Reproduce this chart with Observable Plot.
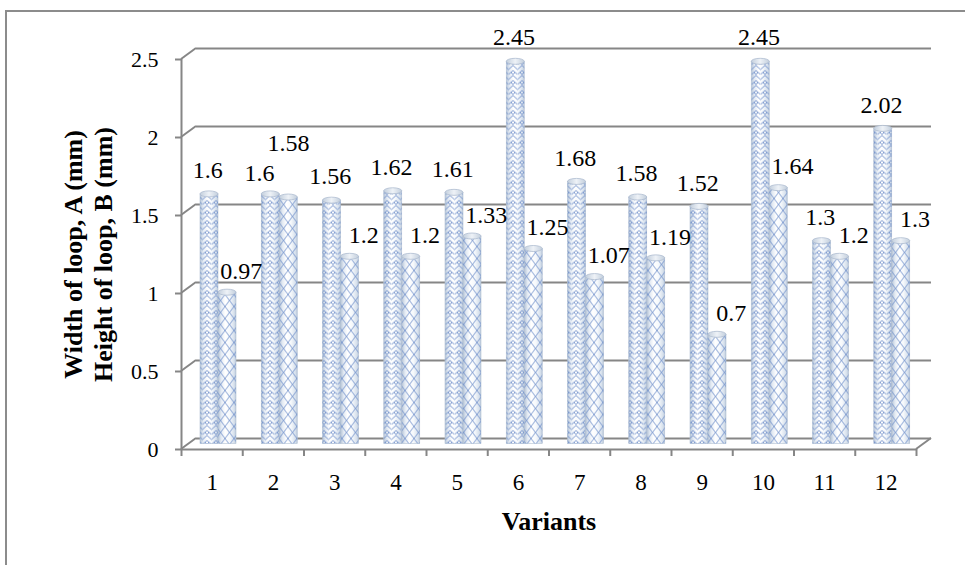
<!DOCTYPE html>
<html><head><meta charset="utf-8">
<script src="https://cdn.jsdelivr.net/npm/d3@7"></script>
<script src="https://cdn.jsdelivr.net/npm/@observablehq/plot@0.6"></script>
<style>
html,body{margin:0;padding:0;background:#fff;width:965px;height:565px;overflow:hidden;}
#frame{position:absolute;left:5px;top:10px;width:1000px;height:600px;border:2px solid #8c8c8c;box-sizing:border-box;}
#chart{position:absolute;left:0;top:0;}
</style></head><body>
<div id="frame"></div><div id="chart"></div>
<script>
// ---- data ----
const variants = [1, 2, 3, 4, 5, 6, 7, 8, 9, 10, 11, 12];
const widthA  = [1.6, 1.6, 1.56, 1.62, 1.61, 2.45, 1.68, 1.58, 1.52, 2.45, 1.3, 2.02];
const heightB = [0.97, 1.58, 1.2, 1.2, 1.33, 1.25, 1.07, 1.19, 0.7, 1.64, 1.2, 1.3];
const yTicks = [0, 0.5, 1, 1.5, 2, 2.5];
const xTitle = "Variants";
const yTitle = "Width of loop, A (mm)\nHeight of loop, B (mm)";

const dataA = variants.map((v, i) => ({variant: v, value: widthA[i]}));
const dataB = variants.map((v, i) => ({variant: v, value: heightB[i]}));

const gray = "#868686";
const depthX = 15, depthY = 11;
const serif = "'Liberation Serif', 'Times New Roman', serif";

// wall connectors (3D depth) drawn through the scales
function depthEdges(index, scales) {
  const g = d3.create("svg:g").attr("stroke", gray).attr("stroke-width", 2).attr("fill", "none");
  const x0 = scales.x(0.5);
  for (const t of yTicks) {
    const y = scales.y(t);
    g.append("line").attr("x1", x0).attr("y1", y).attr("x2", x0 + depthX).attr("y2", y - depthY);
  }
  const xr = scales.x(12.5), y0 = scales.y(0);
  g.append("line").attr("x1", xr).attr("y1", y0).attr("x2", xr + depthX).attr("y2", y0 - depthY);
  return g.node();
}

const band = d => [d.variant - 0.5, d.variant + 0.5];
const barA = {x1: d => band(d)[0], x2: d => band(d)[1], insetLeft: 19, insetRight: 24.25, dy: -5.5};
const barB = {x1: d => band(d)[0], x2: d => band(d)[1], insetLeft: 37, insetRight: 6.25, dy: -5.5};

const svg = Plot.plot({
  width: 965, height: 565,
  marginLeft: 181, marginRight: 49, marginTop: 59, marginBottom: 116,
  x: {type: "linear", domain: [0.5, 12.5], axis: null, label: null},
  y: {domain: [0, 2.5], axis: null, label: null},
  style: {fontFamily: serif, background: "transparent", color: "black", overflow: "visible"},
  marks: [
    Plot.ruleY(yTicks, {dx: depthX, dy: -depthY, stroke: gray, strokeWidth: 2}),
    depthEdges,
    Plot.ruleX([0.5], {stroke: gray, strokeWidth: 2}),
    Plot.ruleY([0], {stroke: gray, strokeWidth: 2}),
    Plot.axisY(yTicks, {anchor: "left", tickSize: 6, tickPadding: 17, fontSize: 22, fontFamily: serif, stroke: gray, strokeWidth: 2, fill: "black", tickFormat: d => String(d), label: null}),
    Plot.axisX(d3.range(0.5, 13, 1), {anchor: "bottom", tickSize: 7, stroke: gray, strokeWidth: 2, tickFormat: () => "", label: null}),
    Plot.axisX(variants, {anchor: "bottom", tickSize: 0, tickPadding: 24, fontSize: 23, fontFamily: serif, fill: "black", tickFormat: d => String(d), label: null}),
    // bars A
    Plot.rect(dataA, {...barA, y1: () => 0, y2: "value", fill: "url(#cyl)", stroke: "#b3c1d3", strokeWidth: 0.6}),
    Plot.rect(dataA, {...barA, y1: () => 0, y2: "value", fill: "url(#patA)"}),
    Plot.rect(dataA, {...barA, y1: "value", y2: "value", insetTop: -3, insetBottom: -3, rx: 9, ry: 3, fill: "url(#cap)", stroke: "#aebdd0", strokeWidth: 0.8}),
    // bars B
    Plot.rect(dataB, {...barB, y1: () => 0, y2: "value", fill: "url(#cyl)", stroke: "#b3c1d3", strokeWidth: 0.6}),
    Plot.rect(dataB, {...barB, y1: () => 0, y2: "value", fill: "url(#patB)"}),
    Plot.rect(dataB, {...barB, y1: "value", y2: "value", insetTop: -3, insetBottom: -3, rx: 9, ry: 3, fill: "url(#cap)", stroke: "#aebdd0", strokeWidth: 0.8}),
    // data labels
    Plot.text(dataA, {filter: d => d.variant !== 2, x: "variant", y: "value", text: d => String(d.value), dx: -4.5, dy: -29.5, fontSize: 24, fontFamily: serif}),
    Plot.text(dataA, {filter: d => d.variant === 2, x: "variant", y: "value", text: d => String(d.value), dx: -14, dy: -27, fontSize: 24, fontFamily: serif}),
    Plot.text(dataB, {filter: d => d.variant !== 2, x: "variant", y: "value", text: d => String(d.value), dx: 29, dy: -27, fontSize: 24, fontFamily: serif}),
    Plot.text(dataB, {filter: d => d.variant === 2, x: "variant", y: "value", text: d => String(d.value), dx: 15, dy: -59.5, fontSize: 24, fontFamily: serif}),
    // titles
    Plot.text([xTitle], {text: d => d, frameAnchor: "bottom", dy: 72, lineAnchor: "middle", textAnchor: "middle", fontSize: 26, fontWeight: "bold", fontFamily: serif}),
    Plot.text([yTitle], {text: d => d, frameAnchor: "left", dx: -94, rotate: -90, textAnchor: "middle", lineAnchor: "middle", lineHeight: 1.15, fontSize: 26, fontWeight: "bold", fontFamily: serif})
  ]
});

d3.select(svg).insert("defs", ":first-child").html(`
  <linearGradient id="cyl" x1="0" x2="1" y1="0" y2="0">
    <stop offset="0" stop-color="#b4c3d6"/>
    <stop offset="0.18" stop-color="#e3eaf3"/>
    <stop offset="0.4" stop-color="#ffffff"/>
    <stop offset="0.65" stop-color="#f6f9fc"/>
    <stop offset="0.9" stop-color="#d6e0ec"/>
    <stop offset="1" stop-color="#b7c5d8"/>
  </linearGradient>
  <linearGradient id="cap" x1="0" x2="1" y1="0" y2="0">
    <stop offset="0" stop-color="#c3cfdd"/>
    <stop offset="0.5" stop-color="#eef2f7"/>
    <stop offset="1" stop-color="#c3cfdd"/>
  </linearGradient>
  <pattern id="patA" patternUnits="userSpaceOnUse" width="9" height="10">
    <path d="M0,1 L4.5,5 L9,1 M0,6 L4.5,10 L9,6 M2,8 L0,10 M7,8 L9,10" stroke="#6f8fca" stroke-width="0.9" fill="none"/>
  </pattern>
  <pattern id="patB" patternUnits="userSpaceOnUse" width="9" height="12">
    <path d="M0,0 L9,12 M9,0 L0,12" stroke="#6f8fca" stroke-width="0.85" fill="none"/>
  </pattern>
`);
document.getElementById("chart").appendChild(svg);
</script>
</body></html>
